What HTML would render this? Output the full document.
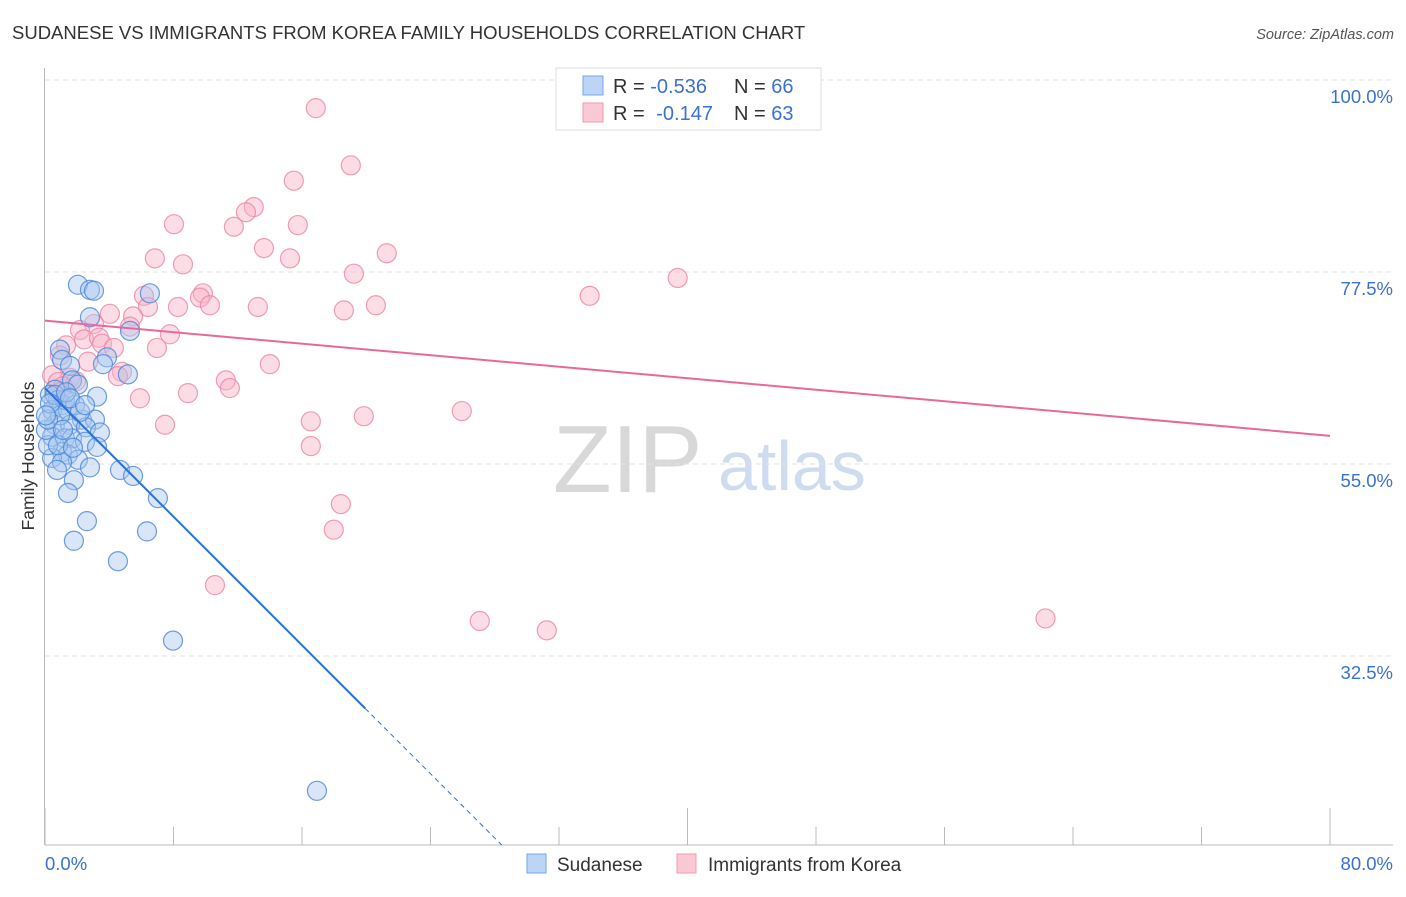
<!DOCTYPE html>
<html><head><meta charset="utf-8"><style>
body{margin:0;background:#fff;font-family:"Liberation Sans",sans-serif;}
svg text{font-family:"Liberation Sans",sans-serif;}
</style></head><body>
<svg id="chart" width="1406" height="892" viewBox="0 0 1406 892" xmlns="http://www.w3.org/2000/svg">
<text x="12" y="39" font-size="18.5" fill="#333">SUDANESE VS IMMIGRANTS FROM KOREA FAMILY HOUSEHOLDS CORRELATION CHART</text>
<text x="1394" y="39" font-size="14.5" fill="#555" font-style="italic" text-anchor="end">Source: ZipAtlas.com</text>
<g>
<text x="553" y="492" font-size="96" fill="#d8d8d8" font-family="Liberation Serif,serif">ZIP</text>
<text x="718" y="490" font-size="70" fill="#cfdcf0">atlas</text>
</g>
<g id="grid"></g>
<g id="axes"></g>
<text transform="translate(34,456) rotate(-90)" font-size="17.5" fill="#333" text-anchor="middle">Family Households</text>
<g id="marks"></g>
<g>
<rect x="556" y="68" width="265" height="62" fill="#fff" stroke="#ddd"/>
<rect x="583" y="76" width="20" height="19" fill="#bcd4f5" stroke="#7aa6e6"/>
<rect x="583" y="103" width="20" height="19" fill="#fbc8d6" stroke="#f09ab4"/>
<text x="613" y="93" font-size="20" fill="#333">R = <tspan fill="#3a72d0">-0.536</tspan><tspan x="734">N = </tspan><tspan fill="#3a72d0">66</tspan></text>
<text x="613" y="120" font-size="20" fill="#333">R = <tspan fill="#3a72d0" dx="6">-0.147</tspan><tspan x="734">N = </tspan><tspan fill="#3a72d0">63</tspan></text>
</g>
<g>
<rect x="527" y="854" width="19" height="19" fill="#bcd4f5" stroke="#7aa6e6"/>
<text x="557" y="871" font-size="19" fill="#333">Sudanese</text>
<rect x="677" y="854" width="19" height="19" fill="#fbc8d6" stroke="#f09ab4"/>
<text x="708" y="871" font-size="19" fill="#333">Immigrants from Korea</text>
</g>
</svg>
<script>
const yTicks=[100,77.5,55,32.5];
const yTickLabels=["100.0%","77.5%","55.0%","32.5%"];
const xTickVals=[0,8,16,24,32,40,48,56,64,72,80];
const xEndLabels=["0.0%","80.0%"];
const blueX=[2.05,2.8,3.05,6.53,2.8,5.29,0.93,3.86,1.06,5.16,3.61,1.56,1.68,2.05,0.62,3.24,0.31,0.81,1.06,0.44,1.43,2.3,3.11,0.62,1.56,2.55,3.42,0.44,1.24,1.68,2.49,3.24,1.06,1.43,0.44,2.05,1.06,2.8,4.67,5.48,1.8,1.43,7.03,2.61,6.35,1.8,4.54,7.97,16.93,0.19,0.81,0.06,1.24,1.87,0.93,0.19,2.18,0.62,1.31,0.31,1.56,1.12,0.75,0.06,2.49,1.74];
const blueY=[76.0,75.4,75.3,75.0,72.2,70.6,68.4,67.5,67.2,65.5,66.7,66.5,64.8,64.3,63.7,62.9,63.1,62.5,61.9,61.3,61.3,60.2,60.2,59.6,59.6,59.3,58.7,58.2,58.0,58.0,57.6,57.0,56.4,56.1,55.7,55.5,55.2,54.6,54.3,53.6,53.1,51.6,51.0,48.3,47.1,46.0,43.6,34.3,16.7,57.2,57.2,59.0,62.5,61.9,60.7,60.2,61.1,63.1,63.4,62.1,62.7,59.0,54.3,60.7,61.9,56.9];
const pinkX=[16.86,19.04,15.49,13.0,12.51,15.74,8.03,11.76,13.63,21.28,6.84,15.25,8.59,19.23,39.39,33.91,6.16,9.83,9.65,6.41,8.28,10.27,13.25,20.6,18.61,4.04,3.05,5.48,2.18,5.29,2.43,7.78,3.36,3.55,4.29,6.97,1.31,0.93,2.68,4.79,4.54,14.0,0.44,1.56,0.81,1.93,11.26,1.12,11.51,8.9,5.91,0.93,25.95,19.85,16.55,7.47,16.55,18.42,17.98,10.58,27.07,31.24,62.29];
const pinkY=[96.7,90.0,88.2,85.1,84.5,83.0,83.1,82.8,80.3,79.7,79.1,79.1,78.4,77.3,76.8,74.7,74.7,75.0,74.5,73.4,73.4,73.6,73.4,73.6,73.0,72.6,71.4,72.3,70.7,71.1,69.6,70.2,69.8,69.1,68.6,68.6,68.9,67.7,67.0,65.8,65.3,66.7,65.4,65.1,64.6,64.7,64.8,64.1,63.9,63.3,62.7,63.4,61.2,60.6,60.0,59.6,57.1,50.3,47.3,40.8,36.6,35.5,36.9];
const pinkTrendEnds=[71.8,58.3];
const NS="http://www.w3.org/2000/svg";
const X0=45,X1=1330,Y100=80,PXY=8.533;
function sx(v){return X0+(v/80)*(X1-X0);}
function sy(v){return Y100+(100-v)*PXY;}
const yMin=100-(845-Y100)/PXY;
function mk(tag,attrs,parent){const e=document.createElementNS(NS,tag);for(const k in attrs)e.setAttribute(k,attrs[k]);parent.appendChild(e);return e;}
const grid=document.getElementById('grid'),axes=document.getElementById('axes'),marks=document.getElementById('marks');
yTicks.forEach((t,i)=>{
 const l=mk('line',{x1:45,x2:1393,y1:sy(t),y2:sy(t),stroke:'#e2e2e2','stroke-dasharray':'5,4'},grid);
 
 
 const tx=mk('text',{x:1393,y:sy(t)+23,'font-size':18.5,fill:'#3a72d0','text-anchor':'end'},axes);
 tx.textContent=yTickLabels[i];
 
 
});
mk('line',{x1:44.5,x2:44.5,y1:68,y2:845,stroke:'#bbb'},axes);
mk('line',{x1:45,x2:1393,y1:845,y2:845,stroke:'#bbb'},axes);
xTickVals.forEach((t,i)=>{
 const tall=(i%5===0);
 const l=mk('line',{x1:sx(t),x2:sx(t),y1:tall?808:827,y2:845,stroke:'#bbb'},axes);
 
 
});
const xl0=mk('text',{x:45,y:870,'font-size':18.5,fill:'#3a72d0'},axes);xl0.textContent=xEndLabels[0];


const xl1=mk('text',{x:1393,y:870,'font-size':18.5,fill:'#3a72d0','text-anchor':'end'},axes);xl1.textContent=xEndLabels[1];


function reg(xs,ys){const n=xs.length;let mx=0,my=0;for(let i=0;i<n;i++){mx+=xs[i];my+=ys[i];}mx/=n;my/=n;let sxy=0,sxx=0;for(let i=0;i<n;i++){sxy+=(xs[i]-mx)*(ys[i]-my);sxx+=(xs[i]-mx)**2;}const b=sxy/sxx;return[my-b*mx,b];}
function pts(xs,ys,fill,stroke,name){const g=mk('g',{},marks);
 xs.forEach((x,i)=>{const c=mk('circle',{cx:sx(x),cy:sy(ys[i]),r:9.5,fill:fill,'fill-opacity':0.45,stroke:stroke,'stroke-opacity':0.8,'stroke-width':1.2},g);
 
 });}
pts(pinkX,pinkY,'#f8b4c8','#ec85a5','korea');
pts(blueX,blueY,'#a9c8f0','#4a86da','sudanese');
const pl=mk('line',{x1:sx(0),y1:sy(pinkTrendEnds[0]),x2:sx(80),y2:sy(pinkTrendEnds[1]),stroke:'#e8689a','stroke-width':2},marks);


const [ba,bb]=reg(blueX,blueY);
const maxBX=Math.max(...blueX)+3;
const bl=mk('line',{x1:sx(0),y1:sy(ba),x2:sx(maxBX),y2:sy(ba+bb*maxBX),stroke:'#2a72d8','stroke-width':2},marks);


const xEnd=(yMin-ba)/bb;
const bd=mk('line',{x1:sx(maxBX),y1:sy(ba+bb*maxBX),x2:sx(xEnd),y2:845,stroke:'#2a72d8','stroke-width':1,'stroke-dasharray':'5,4'},marks);


</script>
</body></html>
